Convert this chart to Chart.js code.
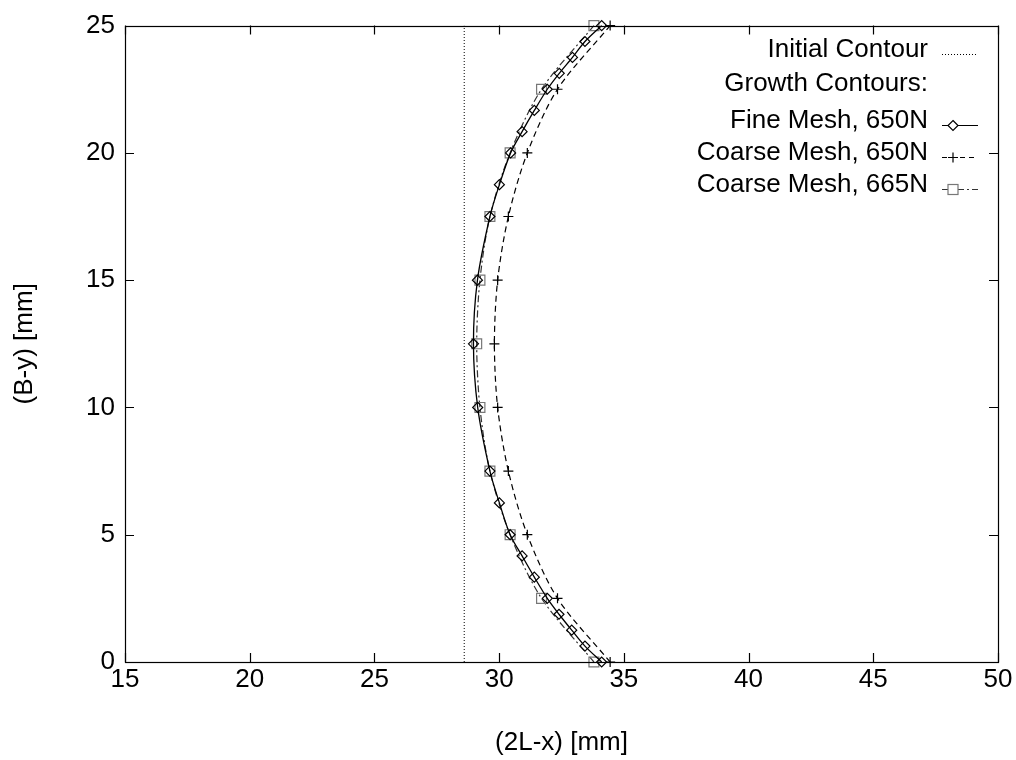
<!DOCTYPE html>
<html>
<head>
<meta charset="utf-8">
<script src="https://cdn.jsdelivr.net/npm/chart.js@4.4.1/dist/chart.umd.min.js"></script>
<style>
  html, body { margin: 0; padding: 0; background: #ffffff; }
</style>
</head>
<body>
<canvas id="contourChart" width="1016" height="760"></canvas>
<script>
// Initial contour (vertical dotted line)
const initialX = [28.6, 28.6];
const initialY = [0, 25];

// Fine mesh, 650N
const fineY = [0, 0.625, 1.25, 1.875, 2.5, 3.333, 4.167, 5, 6.25, 7.5, 10, 12.5, 15, 17.5, 18.75, 20, 20.833, 21.667, 22.5, 23.125, 23.75, 24.375, 25];
const fineX = [34.11, 33.44, 32.91, 32.40, 31.93, 31.41, 30.92, 30.44, 30.01, 29.63, 29.14, 28.97, 29.13, 29.63, 30.01, 30.46, 30.92, 31.41, 31.93, 32.41, 32.94, 33.44, 34.11];

// Coarse mesh, 650N
const coarse650Y = [0, 2.5, 5, 7.5, 10, 12.5, 15, 17.5, 20, 22.5, 25];
const coarse650X = [34.45, 32.34, 31.13, 30.37, 29.94, 29.81, 29.94, 30.37, 31.13, 32.34, 34.45];

// Coarse mesh, 665N
const coarse665Y = [0, 2.5, 5, 7.5, 10, 12.5, 15, 17.5, 20, 22.5, 25];
const coarse665X = [33.80, 31.70, 30.44, 29.63, 29.23, 29.10, 29.23, 29.63, 30.44, 31.70, 33.80];

const xTicks = [15, 20, 25, 30, 35, 40, 45, 50];
const yTicks = [0, 5, 10, 15, 20, 25];

const FONT = "'Liberation Sans', Arial, sans-serif";
const FSIZE = 26;

function toPoints(xs, ys) {
    return xs.map((x, i) => ({ x: x, y: ys[i] }));
}

// Markers drawn by hand for the key
function drawMarker(ctx, style, x, y) {
    ctx.save();
    ctx.setLineDash([]);
    ctx.lineWidth = 1.2;
    if (style === 'diamond') {
        ctx.beginPath();
        ctx.moveTo(x, y - 5);
        ctx.lineTo(x + 5, y);
        ctx.lineTo(x, y + 5);
        ctx.lineTo(x - 5, y);
        ctx.closePath();
        ctx.fillStyle = '#ffffff';
        ctx.fill();
        ctx.strokeStyle = '#000000';
        ctx.stroke();
    } else if (style === 'cross') {
        ctx.beginPath();
        ctx.moveTo(x - 5, y);
        ctx.lineTo(x + 5, y);
        ctx.moveTo(x, y - 5);
        ctx.lineTo(x, y + 5);
        ctx.strokeStyle = '#000000';
        ctx.stroke();
    } else if (style === 'square') {
        ctx.fillStyle = '#ffffff';
        ctx.fillRect(x - 5, y - 5, 10, 10);
        ctx.strokeStyle = '#777777';
        ctx.strokeRect(x - 5, y - 5, 10, 10);
    }
    ctx.restore();
}

const keyRows = [
    { text: 'Initial Contour', y: 50, dash: [1, 2], color: '#000000', marker: null },
    { text: 'Growth Contours:', y: 84, dash: null },
    { text: 'Fine Mesh, 650N', y: 121, dash: [], color: '#000000', marker: 'diamond' },
    { text: 'Coarse Mesh, 650N', y: 153, dash: [5, 4], color: '#000000', marker: 'cross' },
    { text: 'Coarse Mesh, 665N', y: 185, dash: [7, 3, 2, 3], color: '#333333', marker: 'square' }
];

// Box, inward ticks on all four sides, and the gnuplot-like key
const framePlugin = {
    id: 'frame',
    afterDraw(chart) {
        const { ctx, chartArea: a } = chart;
        const xs = chart.scales.x;
        const ys = chart.scales.y;
        const tl = 9;

        ctx.save();
        ctx.strokeStyle = '#000000';
        ctx.lineWidth = 1.2;
        ctx.setLineDash([]);
        ctx.beginPath();
        xTicks.forEach(v => {
            const px = Math.round(xs.getPixelForValue(v)) + 0.5;
            ctx.moveTo(px, a.bottom);
            ctx.lineTo(px, a.bottom - tl);
            ctx.moveTo(px, a.top);
            ctx.lineTo(px, a.top + tl);
        });
        yTicks.forEach(v => {
            const py = Math.round(ys.getPixelForValue(v)) + 0.5;
            ctx.moveTo(a.left, py);
            ctx.lineTo(a.left + tl, py);
            ctx.moveTo(a.right, py);
            ctx.lineTo(a.right - tl, py);
        });
        ctx.stroke();
        ctx.strokeRect(Math.round(a.left) + 0.5, Math.round(a.top) + 0.5,
                       Math.round(a.right - a.left), Math.round(a.bottom - a.top));

        // key
        ctx.font = FSIZE + 'px ' + FONT;
        ctx.fillStyle = '#000000';
        ctx.textAlign = 'right';
        ctx.textBaseline = 'middle';
        keyRows.forEach(row => {
            ctx.fillText(row.text, 928, row.y);
            if (row.dash === null) return;
            const ly = Math.round(row.y + 4) + 0.5;
            ctx.save();
            ctx.setLineDash(row.dash);
            ctx.strokeStyle = row.color;
            ctx.lineWidth = 1.2;
            ctx.beginPath();
            ctx.moveTo(942, ly);
            ctx.lineTo(978, ly);
            ctx.stroke();
            ctx.restore();
            if (row.marker) drawMarker(ctx, row.marker, 953, ly);
        });
        ctx.restore();
    }
};

new Chart(document.getElementById('contourChart').getContext('2d'), {
    type: 'scatter',
    data: {
        datasets: [
            {
                label: 'Initial Contour',
                data: toPoints(initialX, initialY),
                showLine: true,
                borderColor: '#000000',
                borderWidth: 1,
                borderDash: [1, 2],
                pointRadius: 0,
                order: 4
            },
            {
                label: 'Coarse Mesh, 665N',
                data: toPoints(coarse665X, coarse665Y),
                showLine: true,
                borderColor: '#333333',
                borderWidth: 1.2,
                borderDash: [7, 3, 2, 3],
                tension: 0.3,
                pointStyle: 'rect',
                pointRadius: 7,
                pointBorderColor: '#777777',
                pointBackgroundColor: 'rgba(255,255,255,0)',
                pointBorderWidth: 1.2,
                clip: false,
                order: 3
            },
            {
                label: 'Coarse Mesh, 650N',
                data: toPoints(coarse650X, coarse650Y),
                showLine: true,
                borderColor: '#000000',
                borderWidth: 1.2,
                borderDash: [6, 4],
                tension: 0.3,
                pointStyle: 'cross',
                pointRadius: 5,
                pointBorderColor: '#000000',
                pointBorderWidth: 1.2,
                clip: false,
                order: 2
            },
            {
                label: 'Fine Mesh, 650N',
                data: toPoints(fineX, fineY),
                showLine: true,
                borderColor: '#000000',
                borderWidth: 1.3,
                tension: 0.3,
                pointStyle: 'rectRot',
                pointRadius: 5,
                pointBorderColor: '#000000',
                pointBackgroundColor: 'rgba(255,255,255,0)',
                pointBorderWidth: 1.2,
                clip: false,
                order: 1
            }
        ]
    },
    options: {
        responsive: false,
        animation: false,
        events: [],
        layout: { padding: { top: 25, right: 18, left: 0, bottom: 0 } },
        plugins: {
            legend: { display: false },
            tooltip: { enabled: false }
        },
        scales: {
            x: {
                type: 'linear',
                min: 15,
                max: 50,
                afterFit: s => { s.height = 98; },
                afterBuildTicks: s => { s.ticks = xTicks.map(v => ({ value: v })); },
                grid: { display: false, drawTicks: false },
                border: { display: false },
                ticks: {
                    autoSkip: false,
                    maxRotation: 0,
                    padding: 2,
                    color: '#000000',
                    font: { family: FONT, size: FSIZE }
                },
                title: {
                    display: true,
                    text: '(2L-x) [mm]',
                    color: '#000000',
                    padding: { top: 0, bottom: 2 },
                    font: { family: FONT, size: FSIZE }
                }
            },
            y: {
                type: 'linear',
                min: 0,
                max: 25,
                afterFit: s => { s.width = 125; },
                afterBuildTicks: s => { s.ticks = yTicks.map(v => ({ value: v })); },
                grid: { display: false, drawTicks: false },
                border: { display: false },
                ticks: {
                    autoSkip: false,
                    padding: 10,
                    color: '#000000',
                    font: { family: FONT, size: FSIZE }
                },
                title: {
                    display: true,
                    text: '(B-y) [mm]',
                    color: '#000000',
                    padding: { top: 9, bottom: 0 },
                    font: { family: FONT, size: FSIZE }
                }
            }
        }
    },
    plugins: [framePlugin]
});
</script>
</body>
</html>
